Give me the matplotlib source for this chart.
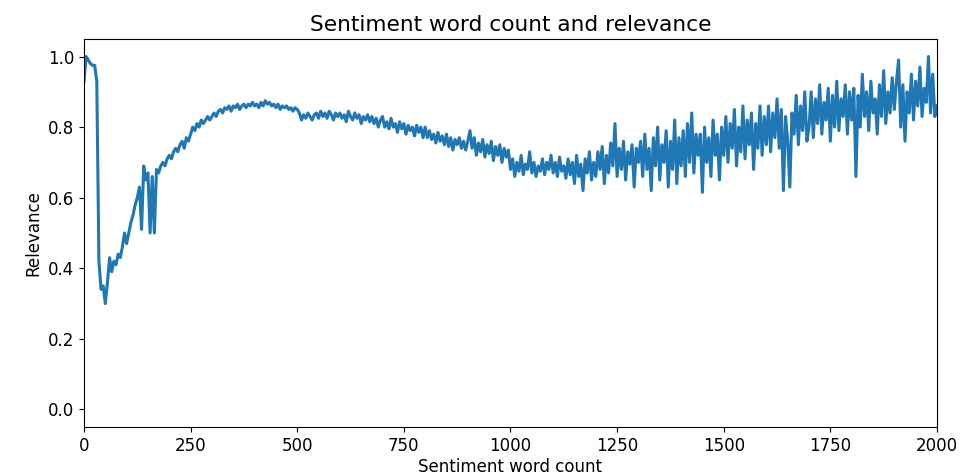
import numpy as np
import matplotlib
matplotlib.use("Agg")
import matplotlib.pyplot as plt

# Sentiment word count sampled every 5 words
word_step = 5
word_count = np.arange(0, 2001, word_step)

# Relevance for each word count bucket (0-95, 100-195, ... 1900-1995, 2000)
relevance = [
    0.93, 1.00, 0.99, 0.98, 0.975, 0.975, 0.93, 0.42, 0.34, 0.35, 0.30, 0.36, 0.43, 0.39, 0.42, 0.41, 0.44, 0.43, 0.46, 0.50,
    0.47, 0.50, 0.53, 0.55, 0.58, 0.60, 0.63, 0.51, 0.69, 0.65, 0.67, 0.50, 0.66, 0.50, 0.68, 0.67, 0.69, 0.70, 0.69, 0.71,
    0.72, 0.71, 0.73, 0.74, 0.73, 0.75, 0.76, 0.74, 0.77, 0.76, 0.78, 0.80, 0.79, 0.81, 0.80, 0.82, 0.81, 0.82, 0.83, 0.82,
    0.83, 0.84, 0.83, 0.845, 0.85, 0.84, 0.855, 0.85, 0.86, 0.845, 0.86, 0.855, 0.865, 0.85, 0.86, 0.865, 0.855, 0.865, 0.86, 0.87,
    0.86, 0.865, 0.855, 0.87, 0.86, 0.875, 0.865, 0.87, 0.86, 0.865, 0.855, 0.865, 0.85, 0.86, 0.855, 0.86, 0.85, 0.855, 0.845, 0.855,
    0.85, 0.84, 0.82, 0.835, 0.825, 0.84, 0.83, 0.82, 0.835, 0.84, 0.825, 0.845, 0.83, 0.84, 0.825, 0.845, 0.835, 0.82, 0.84, 0.83,
    0.84, 0.825, 0.835, 0.815, 0.845, 0.83, 0.82, 0.84, 0.825, 0.835, 0.81, 0.83, 0.82, 0.835, 0.815, 0.83, 0.81, 0.825, 0.80, 0.82,
    0.83, 0.80, 0.815, 0.795, 0.825, 0.80, 0.81, 0.785, 0.815, 0.795, 0.81, 0.78, 0.805, 0.79, 0.80, 0.775, 0.805, 0.785, 0.80, 0.77,
    0.80, 0.77, 0.79, 0.765, 0.78, 0.755, 0.785, 0.76, 0.775, 0.75, 0.78, 0.745, 0.77, 0.735, 0.765, 0.75, 0.77, 0.74, 0.76, 0.735,
    0.76, 0.79, 0.74, 0.77, 0.72, 0.755, 0.73, 0.765, 0.715, 0.75, 0.725, 0.76, 0.705, 0.745, 0.72, 0.75, 0.70, 0.74, 0.715, 0.735,
    0.68, 0.71, 0.66, 0.70, 0.675, 0.72, 0.665, 0.695, 0.68, 0.73, 0.67, 0.70, 0.66, 0.69, 0.675, 0.71, 0.665, 0.70, 0.68, 0.72,
    0.67, 0.70, 0.66, 0.715, 0.675, 0.69, 0.655, 0.71, 0.665, 0.70, 0.64, 0.72, 0.66, 0.695, 0.62, 0.71, 0.67, 0.73, 0.65, 0.70,
    0.66, 0.73, 0.68, 0.745, 0.64, 0.72, 0.67, 0.755, 0.69, 0.81, 0.66, 0.74, 0.68, 0.76, 0.65, 0.73, 0.695, 0.75, 0.63, 0.74,
    0.70, 0.76, 0.66, 0.78, 0.68, 0.74, 0.62, 0.77, 0.69, 0.80, 0.65, 0.75, 0.70, 0.79, 0.63, 0.76, 0.68, 0.82, 0.64, 0.77,
    0.69, 0.79, 0.66, 0.81, 0.70, 0.84, 0.67, 0.78, 0.72, 0.78, 0.615, 0.80, 0.70, 0.77, 0.66, 0.82, 0.72, 0.78, 0.65, 0.80,
    0.72, 0.83, 0.70, 0.81, 0.74, 0.85, 0.69, 0.80, 0.73, 0.86, 0.71, 0.82, 0.75, 0.84, 0.68, 0.81, 0.74, 0.86, 0.72, 0.83,
    0.75, 0.86, 0.73, 0.84, 0.77, 0.88, 0.74, 0.85, 0.62, 0.83, 0.76, 0.63, 0.84, 0.78, 0.89, 0.75, 0.86, 0.79, 0.90, 0.76,
    0.80, 0.90, 0.77, 0.88, 0.81, 0.92, 0.78, 0.87, 0.82, 0.91, 0.76, 0.89, 0.80, 0.93, 0.79, 0.88, 0.83, 0.92, 0.78, 0.90,
    0.82, 0.91, 0.66, 0.89, 0.80, 0.95, 0.83, 0.90, 0.79, 0.93, 0.84, 0.88, 0.78, 0.92, 0.83, 0.96, 0.81, 0.90, 0.84, 0.94,
    0.85, 0.93, 0.99, 0.80, 0.92, 0.76, 0.90, 0.84, 0.95, 0.82, 0.93, 0.86, 0.97, 0.83, 0.91, 0.87, 1.00, 0.84, 0.95, 0.83,
    0.86,
]

plt.rcParams['font.size'] = 12

fig = plt.figure(figsize=(9.61, 4.74), dpi=100)
ax = fig.add_axes([0.0874, 0.099, 0.8876, 0.819])

ax.plot(word_count, relevance, linewidth=2.2)
ax.set_xlim(0, 2000)
ax.set_ylim(-0.05, 1.05)
ax.set_title('Sentiment word count and relevance', fontsize=15.6)
ax.set_xlabel('Sentiment word count', labelpad=2)
ax.set_ylabel('Relevance')

fig.savefig('out.png', dpi=100)
